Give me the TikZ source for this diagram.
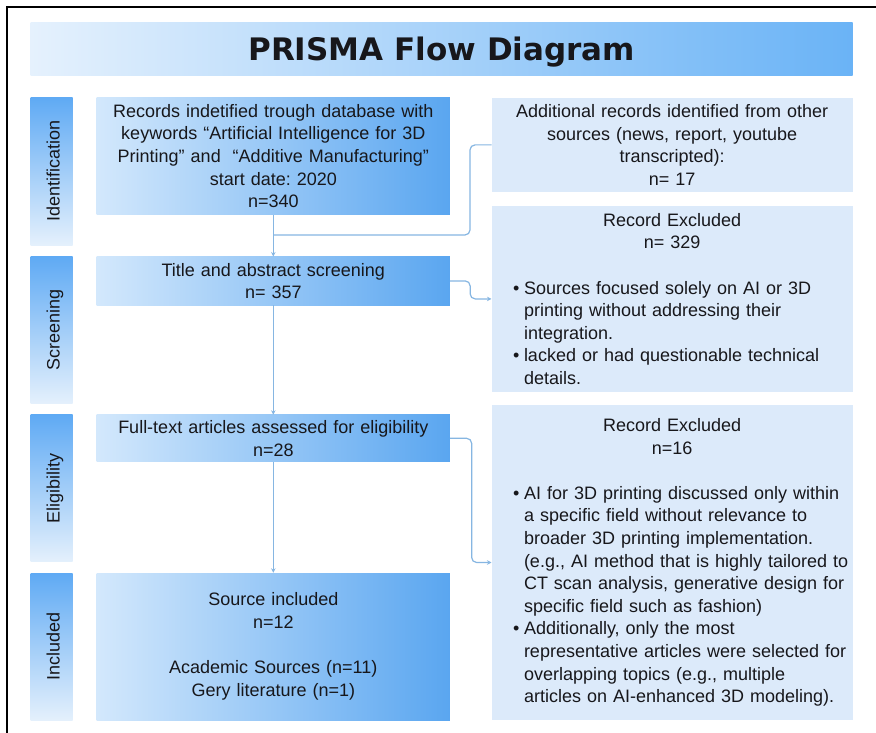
\documentclass[tikz,border=0pt]{standalone}
\usepackage{fontspec}
\usepackage{graphicx}
\setmainfont{Liberation Sans}
\newfontfamily\titlefont{DejaVu Sans}
\usetikzlibrary{arrows.meta}

\definecolor{barblue}{HTML}{5FAAF4}
\definecolor{barlight}{HTML}{E4F0FC}
\definecolor{boxlight}{HTML}{D3E8FC}
\definecolor{boxblue}{HTML}{5AA6F0}
\definecolor{banlight}{HTML}{E5F1FD}
\definecolor{banblue}{HTML}{6AB3F6}
\definecolor{sidefill}{HTML}{DCEAFA}
\definecolor{inktext}{HTML}{17171B}
\definecolor{wire}{HTML}{86B6E2}

\frenchspacing
\hyphenpenalty=10000
\exhyphenpenalty=10000
\newcommand\bodyfont{\fontsize{18}{22.6}\selectfont}
% bullet paragraph: text indented, bullet hung in the margin
\newcommand\bul{\leftskip=32.3pt\noindent\llap{\makebox[11pt][l]{•}}}
% rotated phase label with a common baseline
\newcommand\phaselabel[1]{\rotatebox{90}{\raisebox{0pt}[15.6pt][0pt]{#1}}}

\begin{document}
\begin{tikzpicture}[x=1pt,y=-1pt,
  mainbox/.style={left color=boxlight, right color=boxblue, minimum width=353.3pt,
    text width=353.3pt, inner xsep=0pt, inner ysep=0pt, align=center,
    font=\bodyfont, text=inktext},
  sidebox/.style={fill=sidefill, minimum width=361pt, text width=361pt,
    inner xsep=0pt, inner ysep=0pt, align=left, font=\bodyfont, text=inktext},
  phase/.style={top color=barblue, bottom color=barlight, minimum width=42pt,
    inner sep=0pt, font=\bodyfont, text=inktext},
  banner/.style={left color=banlight, right color=banblue, minimum width=822pt,
    minimum height=52.3pt, inner sep=0pt, text height=23pt, text depth=0pt,
    font=\titlefont\bfseries\fontsize{31}{38}\selectfont, text=inktext},
  conn/.style={draw=wire, line width=1.2pt, rounded corners=5pt},
  arr/.style={conn, -{Stealth[length=4.5pt,width=4.5pt]}}
]
\useasboundingbox (0,0) rectangle (876,733);
\fill[white] (0,0) rectangle (876,733);

% outer frame
\draw[line width=1.8pt, black] (6.7,745) -- (6.7,7.3) -- (890,7.3);

% title banner
\node[banner] (ttl) at (441.7,48.9) {PRISMA Flow Diagram};

% phase bars
\node[phase, minimum height=147.7pt] (pid)  at (51.7,171.2) {\phaselabel{Identification}};
\node[phase, minimum height=146.3pt] (pscr) at (51.7,330)   {\phaselabel{Screening}};
\node[phase, minimum height=146.7pt] (pelg) at (51.7,488.3) {\phaselabel{Eligibility}};
\node[phase, minimum height=147pt]   (pinc) at (51.7,646.5) {\phaselabel{Included}};

% main flow
\node[mainbox, minimum height=116.8pt] (rec) at (273.3,156.1)
  {Records indetified trough database with\\keywords “Artificial Intelligence for 3D\\Printing” and \ “Additive Manufacturing”\\start date: 2020\\n=340};
\node[mainbox, minimum height=48.3pt] (scr) at (273.3,280.9)
  {Title and abstract screening\\n= 357};
\node[mainbox, minimum height=46.7pt] (full) at (273.3,438.3)
  {Full-text articles assessed for eligibility\\n=28};
\node[mainbox, minimum height=147pt] (incl) at (273.3,646.5)
  {Source included\\n=12\\[22.6pt]Academic Sources (n=11)\\Gery literature (n=1)};

% side boxes
\node[sidebox, align=center, minimum height=94.3pt] (addl) at (672.2,144.9)
  {Additional records identified from other\\sources (news, report, youtube\\transcripted):\\n= 17};
\node[sidebox, minimum height=185.7pt] (exa) at (672.2,298.9)
  {{\centering Record Excluded\\n= 329\par}\vspace{22.6pt}%
   \bul Sources focused solely on AI or 3D\\printing without addressing their\\integration.\par
   \bul lacked or had questionable technical\\details.\par};
\node[sidebox, minimum height=315pt] (exb) at (672.2,562.5)
  {{\centering Record Excluded\\n=16\par}\vspace{22.6pt}%
   \bul AI for 3D printing discussed only within\\a specific field without relevance to\\broader 3D printing implementation.\\(e.g., AI method that is highly tailored to\\CT scan analysis, generative design for\\specific field such as fashion)\par
   \bul Additionally, only the most\\representative articles were selected for\\overlapping topics (e.g., multiple\\articles on AI-enhanced 3D modeling).\par};

% connectors
\coordinate (j1) at (273.3,235);
\draw[arr]  (rec.south) -- (scr.north);
\draw[conn] (addl.west) -- ++(-21.5,0) |- (j1);
\draw[arr]  (scr.east) -- ++(20,0) |- (exa.west);
\draw[arr]  (scr.south) -- (full.north);
\draw[arr]  (full.east) -- ++(21.5,0) |- (exb.west);
\draw[arr]  (full.south) -- (incl.north);
\end{tikzpicture}
\end{document}
